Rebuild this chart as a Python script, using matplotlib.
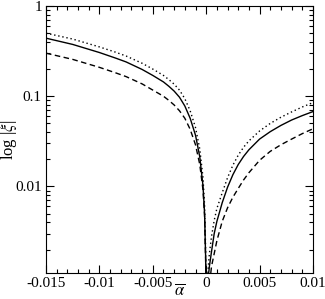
import matplotlib
matplotlib.use("Agg")
import matplotlib.pyplot as plt
from matplotlib.ticker import MultipleLocator, LogLocator, NullFormatter, FixedLocator

plt.rcParams["font.family"] = ["Liberation Serif", "DejaVu Serif"]
plt.rcParams["mathtext.fontset"] = "stix"

# left branch (alpha < 0)
alpha_left = [-0.015, -0.0125, -0.01, -0.0085, -0.0075, -0.006, -0.005, -0.004,
              -0.0035, -0.003, -0.0025, -0.002, -0.0015, -0.001, -0.0006,
              -0.0003, -0.00015, -0.00005, -0.00002]
solid_left = [0.44, 0.375, 0.305, 0.265, 0.24, 0.198, 0.17, 0.144,
              0.129, 0.114, 0.0975, 0.078, 0.057, 0.037, 0.0213,
              0.0102, 0.005, 0.0016, 0.0006]
dotted_left = [0.50, 0.43, 0.352, 0.308, 0.279, 0.232, 0.20, 0.17,
               0.153, 0.136, 0.117, 0.094, 0.069, 0.045, 0.026,
               0.0126, 0.0062, 0.002, 0.0008]
dashed_left = [0.30, 0.256, 0.209, 0.182, 0.165, 0.137, 0.117, 0.10,
               0.09, 0.08, 0.069, 0.057, 0.043, 0.029, 0.0175,
               0.0092, 0.0047, 0.0015, 0.0006]

# right branch (alpha > 0)
alpha_right = [0.0001, 0.0002, 0.0003, 0.0005, 0.00075, 0.001, 0.0015, 0.002,
               0.0025, 0.003, 0.0035, 0.004, 0.005, 0.006, 0.007, 0.008,
               0.009, 0.01]
solid_right = [0.0006, 0.001, 0.0013, 0.0019, 0.003, 0.0041, 0.0066, 0.0098,
               0.0135, 0.0175, 0.0215, 0.0255, 0.0335, 0.0405, 0.0475, 0.0545,
               0.061, 0.0676]
dotted_right = [0.0008, 0.0013, 0.0018, 0.0028, 0.0042, 0.0057, 0.0085, 0.0125,
                0.0172, 0.0222, 0.0272, 0.032, 0.0412, 0.05, 0.0585, 0.067,
                0.076, 0.085]
dashed_right = [0.0003, 0.0005, 0.0008, 0.0013, 0.0018, 0.0025, 0.0041, 0.0058,
                0.0076, 0.0095, 0.0118, 0.0142, 0.0195, 0.0245, 0.029, 0.0335,
                0.0385, 0.0436]

fig = plt.figure(figsize=(3.25, 2.99), dpi=100)
ax = fig.add_axes([0.1415, 0.087, 0.8215, 0.893])

styles = {"-": {"linestyle": "-"},
          ":": {"linestyle": (0, (1, 2))},
          "--": {"linestyle": (0, (4, 2.5))}}

for a, v, ls in [(alpha_left, solid_left, "-"), (alpha_left, dotted_left, ":"),
                 (alpha_left, dashed_left, "--"), (alpha_right, solid_right, "-"),
                 (alpha_right, dotted_right, ":"), (alpha_right, dashed_right, "--")]:
    ax.plot(a, v, color="black", linewidth=1.0, **styles[ls])

ax.set_yscale("log")
ax.set_xlim(-0.015, 0.01)
ax.set_ylim(0.0011, 1)

ax.set_xticks([-0.015, -0.01, -0.005, 0, 0.005, 0.01])
ax.set_xticklabels(["-0.015", "-0.01", "-0.005", "0", "0.005", "0.01"])
ax.xaxis.set_minor_locator(MultipleLocator(0.001))
ax.yaxis.set_major_locator(FixedLocator([0.01, 0.1, 1]))
ax.set_yticklabels(["0.01", "0.1", "1"])
ax.yaxis.set_minor_locator(LogLocator(base=10, subs=range(2, 10)))
ax.yaxis.set_minor_formatter(NullFormatter())

ax.tick_params(which="both", direction="in", top=True, right=True, labelsize=11,
               width=0.8, pad=3)
ax.tick_params(which="major", length=6)
ax.tick_params(which="minor", length=3)

ax.set_xlabel(r"$\overline{\alpha}$", fontsize=12, va="center")
ax.xaxis.set_label_coords(0.5, -0.066)
ax.set_ylabel(r"log |$\xi$|", fontsize=12, va="center")
ax.yaxis.set_label_coords(-0.14, 0.5)

fig.savefig("out.png", dpi=100)
